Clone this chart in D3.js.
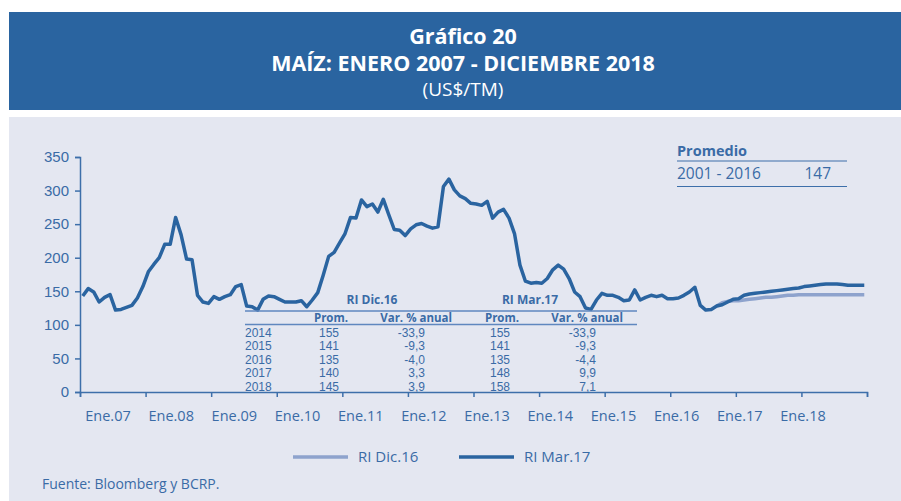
<!DOCTYPE html>
<html lang="es">
<head>
    <meta charset="utf-8">
    <title>Gráfico 20 - Maíz</title>
    <script type="text/javascript" src="https://cdn.jsdelivr.net/npm/d3@7"></script>
    <style>
        body { margin: 0; background: #ffffff; }
        svg { display: block; font-family: "Open Sans", sans-serif; }
    </style>
</head>
<body>
<div id="graph"></div>
<script type="text/javascript">
    // etiquetas del eje x (una por año)
    var etiquetas = ["Ene.07", "Ene.08", "Ene.09", "Ene.10", "Ene.11", "Ene.12",
                     "Ene.13", "Ene.14", "Ene.15", "Ene.16", "Ene.17", "Ene.18"];
    var yTicks = [0, 50, 100, 150, 200, 250, 300, 350];

    // precios mensuales ene.2007 - dic.2016 (US$/TM)
    var historico = [
        143, 154, 149, 134, 141, 145, 122, 123, 126, 129, 140, 157,   // 2007
        179, 190, 200, 220, 220, 260, 234, 198, 197, 144, 134, 132,   // 2008
        142, 138, 142, 145, 157, 160, 128, 127, 122, 138, 143, 142,   // 2009
        138, 134, 134, 134, 136, 127, 137, 148, 174, 202, 208, 222,   // 2010
        236, 260, 259, 286, 276, 280, 268, 287, 264, 242, 241, 233,   // 2011
        243, 249, 251, 247, 244, 246, 306, 317, 301, 292, 288, 281,   // 2012
        280, 278, 284, 259, 268, 272, 259, 236, 189, 165, 162, 163,   // 2013
        162, 169, 182, 189, 183, 169, 149, 142, 125, 123, 137, 147,   // 2014
        144, 144, 141, 136, 137, 152, 137, 141, 144, 142, 144, 139,   // 2015
        139, 140, 144, 149, 156, 129, 122, 123, 128, 130, 134, 138    // 2016
    ];
    // proyección RI Dic.16: oct.2016 - dic.2018
    var proyDic16 = [
        133, 135, 136,
        136, 137, 138, 139, 140, 141, 141, 142, 143, 144, 144, 145,
        145, 145, 145, 145, 145, 145, 145, 145, 145, 145, 145, 145
    ];
    // proyección RI Mar.17: ene.2017 - dic.2018
    var proyMar17 = [
        139, 144, 146, 147, 148, 149, 150, 151, 152, 153, 154, 155,
        157, 158, 159, 160, 161, 161, 161, 160, 159, 159, 159, 159
    ];

    // cuadro
    var anios = ["2014", "2015", "2016", "2017", "2018"];
    var promDic16 = ["155", "141", "135", "140", "145"];
    var varDic16 = ["-33,9", "-9,3", "-4,0", "3,3", "3,9"];
    var promMar17 = ["155", "141", "135", "148", "158"];
    var varMar17 = ["-33,9", "-9,3", "-4,4", "9,9", "7,1"];

    var w = 901, h = 501;
    var azul = "#2a64a0";
    var azulTexto = "#3a6ba6";
    var celeste = "#8ea3cd";

    var svg = d3.select("#graph").append("svg")
        .attr("width", w)
        .attr("height", h);

    // cabecera
    svg.append("rect").attr("x", 9).attr("y", 12).attr("width", w - 9).attr("height", 98)
        .attr("fill", azul);
    svg.append("rect").attr("x", 9).attr("y", 117).attr("width", w - 9).attr("height", h - 117)
        .attr("fill", "#e4e7f1");

    svg.append("text").attr("x", 463).attr("y", 44).attr("text-anchor", "middle")
        .attr("fill", "white").style("font-size", "21.5px").style("font-weight", "bold")
        .text("Gráfico 20");
    svg.append("text").attr("x", 463).attr("y", 71).attr("text-anchor", "middle")
        .attr("fill", "white").style("font-size", "21.5px").style("font-weight", "bold")
        .text("MAÍZ: ENERO 2007 - DICIEMBRE 2018");
    svg.append("text").attr("x", 463).attr("y", 96).attr("text-anchor", "middle")
        .attr("fill", "white").style("font-size", "19px")
        .text("(US$/TM)");

    // escalas
    var xScale = d3.scaleLinear().domain([0, 144]).range([80, 867]);
    var yScale = d3.scaleLinear().domain([0, 350]).range([392, 157]);
    var xLabel = d3.scalePoint().domain(etiquetas).range([108, 803]);

    var yAxis = d3.axisLeft(yScale).tickValues(yTicks).tickSize(5).tickPadding(6);
    var gy = svg.append("g").attr("transform", "translate(80,0)").call(yAxis);
    gy.selectAll("text").style("font-size", "15px").attr("fill", azulTexto);

    var xAxis = d3.axisBottom(xScale).tickValues(d3.range(0, 145, 12)).tickSize(5).tickFormat("");
    var gx = svg.append("g").attr("transform", "translate(0,392)").call(xAxis);

    svg.selectAll(".domain, .tick line").attr("stroke", "#3d6faa").attr("stroke-width", 1.5);

    svg.selectAll(".xlab")
        .data(etiquetas)
        .enter()
        .append("text")
        .attr("class", "xlab")
        .attr("x", function (d) { return xLabel(d); })
        .attr("y", 421)
        .attr("text-anchor", "middle")
        .attr("fill", azulTexto)
        .style("font-size", "14.5px")
        .text(function (d) { return d; });

    // series
    var serieMar17 = historico.concat(proyMar17).map(function (v, i) { return { i: i, v: v }; });
    var serieDic16 = [{ i: 116, v: historico[116] }].concat(proyDic16.map(function (v, k) {
        return { i: 117 + k, v: v };
    }));

    var line = d3.line()
        .x(function (d) { return xScale(d.i + 0.5); })
        .y(function (d) { return yScale(d.v); });

    svg.append("path").datum(serieDic16)
        .attr("d", line).attr("fill", "none")
        .attr("stroke", celeste).attr("stroke-width", 3.5).attr("stroke-linejoin", "round");
    svg.append("path").datum(serieMar17)
        .attr("d", line).attr("fill", "none")
        .attr("stroke", azul).attr("stroke-width", 3.5).attr("stroke-linejoin", "round");

    // cuadro de proyecciones
    var tabla = svg.append("g").attr("fill", azulTexto);
    tabla.append("text").attr("x", 372).attr("y", 304).attr("text-anchor", "middle")
        .style("font-size", "12px").style("font-weight", "bold").text("RI Dic.16");
    tabla.append("text").attr("x", 530).attr("y", 304).attr("text-anchor", "middle")
        .style("font-size", "12px").style("font-weight", "bold").text("RI Mar.17");
    tabla.append("line").attr("x1", 245).attr("x2", 637).attr("y1", 311).attr("y2", 311)
        .attr("stroke", "#5f87bf").attr("stroke-width", 1.5);
    tabla.append("line").attr("x1", 245).attr("x2", 637).attr("y1", 324.5).attr("y2", 324.5)
        .attr("stroke", "#5f87bf").attr("stroke-width", 1.5);

    var cabeceras = [["Prom.", 331, "middle"], ["Var. % anual", 452, "end"],
                     ["Prom.", 502, "middle"], ["Var. % anual", 623, "end"]];
    cabeceras.forEach(function (c) {
        tabla.append("text").attr("x", c[1]).attr("y", 321.5).attr("text-anchor", c[2])
            .style("font-size", "11.5px").style("font-weight", "bold").text(c[0]);
    });

    var columnas = [[anios, 245, "start"], [promDic16, 339, "end"], [varDic16, 425, "end"],
                    [promMar17, 510, "end"], [varMar17, 596, "end"]];
    columnas.forEach(function (col) {
        tabla.selectAll(null)
            .data(col[0])
            .enter()
            .append("text")
            .attr("x", col[1])
            .attr("y", function (d, i) { return 336.5 + i * 13.5; })
            .attr("text-anchor", col[2])
            .style("font-family", "'Liberation Sans', sans-serif")
            .style("font-size", "12px")
            .text(function (d) { return d; });
    });

    // promedio 2001-2016
    var prom = svg.append("g").attr("fill", azulTexto);
    prom.append("text").attr("x", 677).attr("y", 156).style("font-size", "14.5px")
        .style("font-weight", "bold").text("Promedio");
    prom.append("line").attr("x1", 677).attr("x2", 847).attr("y1", 161).attr("y2", 161)
        .attr("stroke", "#3d6faa").attr("stroke-width", 1.2);
    prom.append("text").attr("x", 677).attr("y", 178.5).style("font-size", "15.5px").text("2001 - 2016");
    prom.append("text").attr("x", 831).attr("y", 178.5).attr("text-anchor", "end")
        .style("font-size", "15.5px").text("147");
    prom.append("line").attr("x1", 677).attr("x2", 847).attr("y1", 186.5).attr("y2", 186.5)
        .attr("stroke", "#3d6faa").attr("stroke-width", 1.2);

    // leyenda
    var leyenda = [["RI Dic.16", celeste, 293], ["RI Mar.17", azul, 459]];
    leyenda.forEach(function (l) {
        svg.append("line").attr("x1", l[2]).attr("x2", l[2] + 55).attr("y1", 457).attr("y2", 457)
            .attr("stroke", l[1]).attr("stroke-width", 3.5);
        svg.append("text").attr("x", l[2] + 65).attr("y", 462).attr("fill", azulTexto)
            .style("font-size", "15px").text(l[0]);
    });

    svg.append("text").attr("x", 42).attr("y", 489).attr("fill", azulTexto)
        .style("font-size", "14px").text("Fuente: Bloomberg y BCRP.");
</script>
</body>
</html>
